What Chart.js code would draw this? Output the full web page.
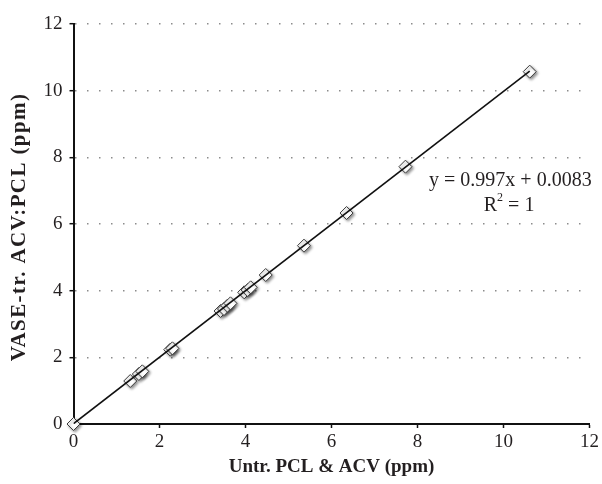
<!DOCTYPE html>
<html>
<head>
<meta charset="utf-8">
<script src="https://cdn.jsdelivr.net/npm/chart.js@4.4.0/dist/chart.umd.min.js"></script>
<style>
    body { margin: 0; background: #fff; }
</style>
</head>
<body>
<canvas id="graficoCalibracao" width="602" height="484"></canvas>
<script>
// valores
const untreated = [0, 1.32, 1.52, 1.60, 2.25, 2.30, 3.42, 3.50, 3.58, 3.65, 3.97, 4.05, 4.12, 4.47, 5.36, 6.35, 7.72, 10.61];
const treated = [0, 1.29, 1.50, 1.58, 2.23, 2.27, 3.39, 3.45, 3.55, 3.62, 3.95, 4.02, 4.10, 4.47, 5.35, 6.33, 7.72, 10.57];

// linha de tendência
const slope = 0.997;
const intercept = 0.0083;
const trendRange = [0, 10.61];

const equationText = 'y = 0.997x + 0.0083';
const r2Text = ['R', '2', ' = 1'];

const xTitle = 'Untr. PCL & ACV (ppm)';
const yTitle = 'VASE-tr. ACV:PCL (ppm)';

const serif = "'Liberation Serif', 'DejaVu Serif', serif";
const textColor = '#231f20';

let pontos = [];
for (let i = 0; i < untreated.length; i++) {
    pontos.push({ x: untreated[i], y: treated[i] });
}

let tendencia = trendRange.map(function (x) {
    return { x: x, y: slope * x + intercept };
});

// sombra leve nos marcadores
const sombraPlugin = {
    id: 'sombra',
    beforeDatasetDraw(chart, args) {
        if (args.index != 0) return;
        const ctx = chart.ctx;
        ctx.save();
        ctx.shadowColor = 'rgba(0,0,0,0.45)';
        ctx.shadowBlur = 3;
        ctx.shadowOffsetX = 1.5;
        ctx.shadowOffsetY = 1.5;
    },
    afterDatasetDraw(chart, args) {
        if (args.index != 0) return;
        chart.ctx.restore();
    }
};

// equação da reta + título do eixo y (com espaçamento entre letras)
const textosPlugin = {
    id: 'textos',
    afterDatasetsDraw(chart) {
        const ctx = chart.ctx;
        const x = chart.scales.x;
        const y = chart.scales.y;
        ctx.save();
        ctx.fillStyle = textColor;
        ctx.font = `20px ${serif}`;
        ctx.textBaseline = 'middle';
        ctx.textAlign = 'right';
        ctx.fillText(equationText, x.getPixelForValue(12.05), y.getPixelForValue(7.31));

        // R² centrado
        const small = `12px ${serif}`;
        const big = `20px ${serif}`;
        ctx.font = big;
        const w1 = ctx.measureText(r2Text[0]).width;
        const w3 = ctx.measureText(r2Text[2]).width;
        ctx.font = small;
        const w2 = ctx.measureText(r2Text[1]).width;
        const total = w1 + w2 + w3;
        let cx = x.getPixelForValue(10.13) - total / 2;
        const cy = y.getPixelForValue(6.56);
        ctx.textAlign = 'left';
        ctx.font = big;
        ctx.fillText(r2Text[0], cx, cy);
        ctx.font = small;
        ctx.fillText(r2Text[1], cx + w1, cy - 7);
        ctx.font = big;
        ctx.fillText(r2Text[2], cx + w1 + w2, cy);
        ctx.restore();

        // título vertical
        const area = chart.chartArea;
        ctx.save();
        ctx.fillStyle = textColor;
        ctx.font = `bold 21px ${serif}`;
        ctx.letterSpacing = '1.4px';
        ctx.textAlign = 'center';
        ctx.textBaseline = 'middle';
        ctx.translate(20, (area.top + area.bottom) / 2 + 3);
        ctx.rotate(-Math.PI / 2);
        ctx.fillText(yTitle, 0, 0);
        ctx.restore();
    }
};

const configGrafico = {
    type: 'scatter',
    data: {
        datasets: [{
            data: pontos,
            pointStyle: 'rectRot',
            pointRadius: 6.5,
            pointBackgroundColor: '#ffffff',
            pointBorderColor: '#3a3a3a',
            pointBorderWidth: 1,
            clip: false,
            order: 2
        }, {
            type: 'line',
            data: tendencia,
            borderColor: '#111111',
            borderWidth: 1.6,
            pointRadius: 0,
            fill: false,
            order: 1
        }]
    },
    options: {
        responsive: false,
        animation: false,
        layout: { padding: { top: 24, right: 0, left: 0, bottom: 0 } },
        plugins: {
            legend: { display: false },
            tooltip: { enabled: false }
        },
        scales: {
            x: {
                type: 'linear',
                min: 0,
                max: 12,
                ticks: {
                    stepSize: 2,
                    color: textColor,
                    font: { family: serif, size: 19 },
                    padding: 3,
                    maxRotation: 0
                },
                grid: {
                    drawOnChartArea: false,
                    tickLength: 4,
                    tickColor: '#111',
                    tickWidth: 1.5
                },
                border: { display: true, color: '#111', width: 2 },
                title: {
                    display: true,
                    text: xTitle,
                    color: textColor,
                    font: { family: serif, size: 19, weight: 'bold' },
                    padding: { top: 0, bottom: 6 }
                },
                afterFit(scale) { scale.height = 60; }
            },
            y: {
                min: 0,
                max: 12,
                ticks: {
                    stepSize: 2,
                    color: textColor,
                    font: { family: serif, size: 19 },
                    padding: 7
                },
                grid: {
                    color: '#8c8c8c',
                    lineWidth: 1.4,
                    tickLength: 4,
                    tickColor: '#111',
                    tickWidth: 1.5
                },
                border: { display: true, color: '#111', width: 2, dash: [1.5, 10.5] },
                title: { display: false },
                afterFit(scale) { scale.width = 73.5; }
            }
        }
    },
    plugins: [sombraPlugin, textosPlugin]
};

let graficoCalibracao = new Chart(
    document.getElementById('graficoCalibracao'),
    configGrafico
);
</script>
</body>
</html>
